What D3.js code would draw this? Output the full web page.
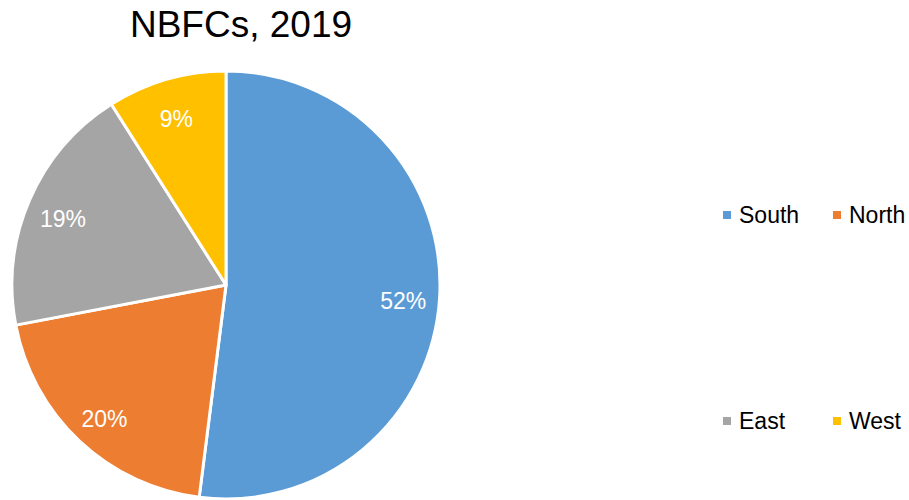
<!DOCTYPE html>
<html>
<head>
<meta charset="utf-8">
<script src="https://cdn.jsdelivr.net/npm/d3@7"></script>
<style>
	body { margin: 0; background: #fff; }
	svg { display: block; font-family: "Liberation Sans", Arial, sans-serif; }
</style>
</head>
<body>
<svg id="chart" width="909" height="500"></svg>
<script>

// chart data
var regions = [ "South", "North", "East", "West" ];
var shares = [ 52, 20, 19, 9 ];
var colors = [ "#5B9BD5", "#ED7D31", "#A5A5A5", "#FFC000" ];
var title = "NBFCs, 2019";

var svg = d3.select("#chart");

const cx = 226, cy = 285, radius = 214;

svg.append("text")
	.attr("x", 241)
	.attr("y", 37)
	.attr("text-anchor", "middle")
	.attr("font-size", 37)
	.attr("fill", "#000")
	.text(title);

var data = regions.map((r, i) => ({ name: r, val: shares[i], color: colors[i] }));

var pie = d3.pie().sort(null).value(d => d.val);
var arc = d3.arc().innerRadius(0).outerRadius(radius);
var labelArc = d3.arc().innerRadius(radius * 0.83).outerRadius(radius * 0.83);
var total = d3.sum(shares);

var g = svg.append("g")
	.attr("transform", `translate(${cx},${cy})`);

var arcs = pie(data);

g.selectAll(".slice")
	.data(arcs)
	.join("path")
	.attr("class", "slice")
	.attr("d", arc)
	.attr("fill", d => d.data.color)
	.attr("stroke", "#fff")
	.attr("stroke-width", 3)
	.attr("stroke-linejoin", "round");

// labels sit a little below the slice centroid, like the spreadsheet's best fit
g.selectAll(".lbl")
	.data(arcs)
	.join("text")
	.attr("class", "lbl")
	.attr("transform", d => `translate(${labelArc.centroid(d)})`)
	.attr("text-anchor", "middle")
	.attr("dy", "0.55em")
	.attr("font-size", 23)
	.attr("fill", "#fff")
	.text(d => d3.format(".0%")(d.data.val / total));

// legend, two columns by two rows
var colx = d3.scalePoint().domain([0, 1]).range([723, 833]);
var rowy = d3.scalePoint().domain([0, 1]).range([215, 421]);

var leg = svg.selectAll(".leg")
	.data(data)
	.join("g")
	.attr("class", "leg")
	.attr("transform", (d, i) => `translate(${colx(i % 2)},${rowy(Math.floor(i / 2))})`);

leg.append("rect")
	.attr("x", 0)
	.attr("y", -4)
	.attr("width", 8)
	.attr("height", 8)
	.attr("fill", d => d.color);

leg.append("text")
	.attr("x", 16)
	.attr("dy", "0.36em")
	.attr("font-size", 23)
	.attr("fill", "#000")
	.text(d => d.name);

</script>
</body>
</html>
